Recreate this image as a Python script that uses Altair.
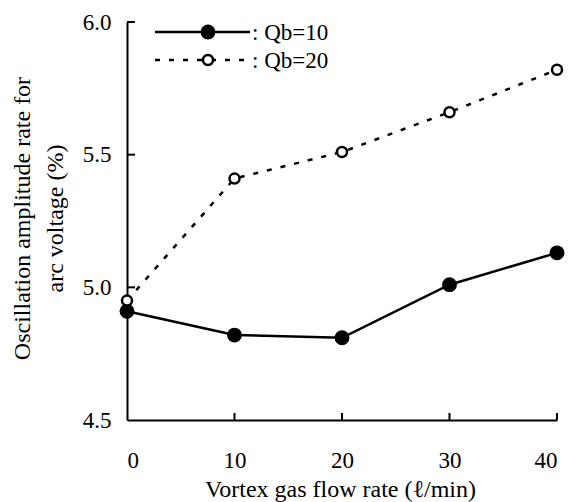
import altair as alt
import pandas as pd

# ---- data ----
flow = [0, 10, 20, 30, 40]
qb10 = [4.91, 4.82, 4.81, 5.01, 5.13]
qb20 = [4.95, 5.41, 5.51, 5.66, 5.82]
series_labels = [": Qb=10", ": Qb=20"]
y_ticks = [4.5, 5.0, 5.5, 6.0]
x_ticks = [0, 10, 20, 30, 40]
y_inner_ticks = [5.0, 5.5, 6.0]
x_inner_ticks = [10, 20, 30, 40]

df10 = pd.DataFrame({"flow": flow, "rate": qb10})
df20 = pd.DataFrame({"flow": flow, "rate": qb20})

FONT = "Liberation Serif"
W, H = 430, 398

xs = alt.Scale(domain=[0, 40], nice=False, zero=False)
ys = alt.Scale(domain=[4.5, 6.0], nice=False, zero=False)

xaxis = alt.Axis(
    values=x_ticks, format="d", ticks=False, grid=False,
    domainColor="black", domainWidth=2,
    labelFont=FONT, labelFontSize=23, labelColor="black", labelPadding=29,
    title="Vortex gas flow rate (ℓ/min)", titleFont=FONT, titleFontSize=24,
    titleFontWeight="normal", titleColor="black",
    titleX=213, titleY=76, titleAlign="center", titleBaseline="alphabetic",
)
yaxis = alt.Axis(
    values=y_ticks, format=".1f", ticks=False, grid=False,
    domainColor="black", domainWidth=2,
    labelFont=FONT, labelFontSize=23, labelColor="black", labelPadding=16,
    title=["Oscillation amplitude rate for", "arc voltage (%)"],
    titleFont=FONT, titleFontSize=24, titleFontWeight="normal", titleColor="black",
    titleAngle=270, titleAlign="center", titleBaseline="middle", titleLineHeight=33,
    titleX=-105, titleY=196,
)

X = alt.X("flow:Q", scale=xs, axis=xaxis)
Y = alt.Y("rate:Q", scale=ys, axis=yaxis)

line10 = alt.Chart(df10).mark_line(color="black", strokeWidth=2.5).encode(x=X, y=Y)
line20 = alt.Chart(df20).mark_line(color="black", strokeWidth=2.5, strokeDash=[5, 9]).encode(x=X, y=Y)
pts10 = alt.Chart(df10).mark_circle(color="black", size=220, opacity=1).encode(x=X, y=Y)
pts20 = alt.Chart(df20).mark_point(shape="circle", filled=True, fill="white", stroke="black",
                                   strokeWidth=2.5, size=100, opacity=1).encode(x=X, y=Y)

# inward axis ticks
ytk = alt.Chart(pd.DataFrame({"v": y_inner_ticks})).mark_rule(color="black", strokeWidth=2).encode(
    y=alt.Y("v:Q", scale=ys), x=alt.value(0), x2=alt.value(8))
xtk = alt.Chart(pd.DataFrame({"v": x_inner_ticks})).mark_rule(color="black", strokeWidth=2).encode(
    x=alt.X("v:Q", scale=xs), y=alt.value(H - 7), y2=alt.value(H))

# legend (hand-drawn, as in the reference)
leg1 = pd.DataFrame({"label": [series_labels[0]]})
leg2 = pd.DataFrame({"label": [series_labels[1]]})
lg_line1 = alt.Chart(leg1).mark_rule(color="black", strokeWidth=2.5).encode(
    x=alt.value(28), x2=alt.value(123), y=alt.value(10))
lg_pt1 = alt.Chart(leg1).mark_circle(color="black", size=220, opacity=1).encode(
    x=alt.value(81), y=alt.value(10))
lg_txt1 = alt.Chart(leg1).mark_text(align="left", baseline="middle", font=FONT, fontSize=23,
                                    color="black").encode(
    x=alt.value(125), y=alt.value(11), text="label:N")
lg_line2 = alt.Chart(leg2).mark_rule(color="black", strokeWidth=2.5, strokeDash=[5, 9]).encode(
    x=alt.value(28), x2=alt.value(123), y=alt.value(38))
lg_pt2 = alt.Chart(leg2).mark_point(shape="circle", filled=True, fill="white", stroke="black",
                                    strokeWidth=2.5, size=100, opacity=1).encode(
    x=alt.value(81), y=alt.value(38))
lg_txt2 = alt.Chart(leg2).mark_text(align="left", baseline="middle", font=FONT, fontSize=23,
                                    color="black").encode(
    x=alt.value(125), y=alt.value(39), text="label:N")

chart = alt.layer(
    line10, line20, pts10, pts20, ytk, xtk,
    lg_line1, lg_pt1, lg_txt1, lg_line2, lg_pt2, lg_txt2,
).properties(
    width=W, height=H,
    padding={"left": 127, "top": 22, "right": 13, "bottom": 82},
    autosize=alt.AutoSizeParams(type="none"),
    background="white",
).configure_view(stroke=None)

chart.save("out.html", embed_options={"renderer": "svg", "actions": False})
